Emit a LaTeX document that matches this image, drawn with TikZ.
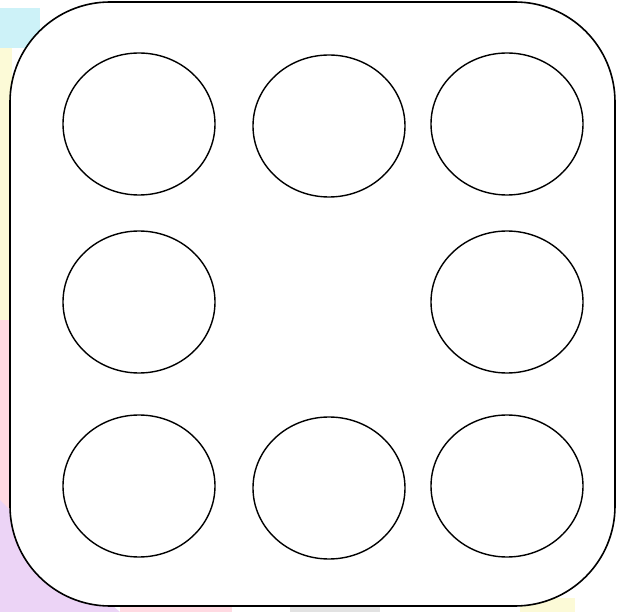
\documentclass[tikz,border=0pt]{standalone}
\usetikzlibrary{shapes.geometric}
\tikzset{
  pip/.style={draw=black,line width=1.4pt,ellipse,fill=white,inner sep=0pt,
    minimum width=152pt,minimum height=142pt},
  frame/.style={draw=black,line width=1.6pt,fill=white,rounded corners=100pt}}
\begin{document}
\begin{tikzpicture}[x=1pt,y=-1pt]
\useasboundingbox (0,0) rectangle (619,612);
% faded background showing at the edges
\fill[fill={rgb,255:red,205;green,242;blue,248}] (0,8) rectangle (40,48);
\fill[fill={rgb,255:red,252;green,250;blue,215}] (0,48) rectangle (12,320);
\fill[fill={rgb,255:red,255;green,218;blue,226}] (0,320) rectangle (12,612);
\fill[fill={rgb,255:red,236;green,212;blue,246}] (0,500) -- (60,560) -- (120,612) -- (0,612) -- cycle;
\fill[fill={rgb,255:red,255;green,218;blue,226}] (120,598) rectangle (232,612);
\fill[fill={rgb,255:red,226;green,226;blue,226}] (290,598) rectangle (380,612);
\fill[fill={rgb,255:red,252;green,250;blue,215}] (520,598) rectangle (575,612);
% die face
\draw[frame] (10,2) rectangle (615,606);
\foreach \nm/\cx/\cy in {a/139/124, b/329/126, c/507/124,
                         d/139/302, f/507/302,
                         g/139/486, h/329/488, i/507/486}
  \node[pip] (\nm) at (\cx,\cy) {};
\end{tikzpicture}
\end{document}
